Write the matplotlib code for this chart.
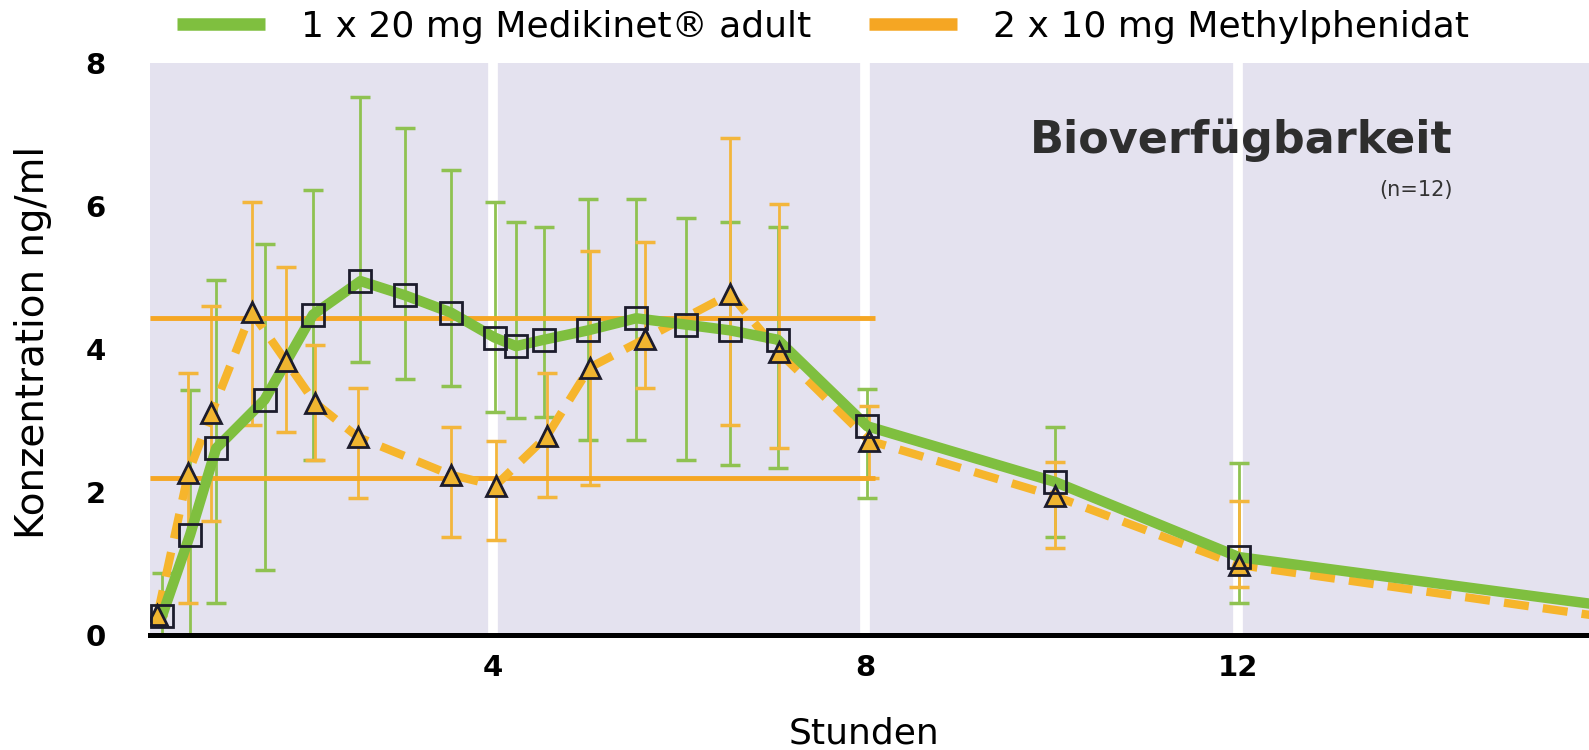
import numpy as np
import matplotlib.pyplot as plt
from matplotlib.lines import Line2D

# Medikinet adult 1 x 20 mg (green, squares)
med_t = [0.45, 0.75, 1.03, 1.55, 2.07, 2.58, 3.06, 3.55, 4.02, 4.25, 4.55, 5.02, 5.54, 6.08, 6.55, 7.06, 8.02, 10.04, 12.01, 16.0]
med_c = [0.27, 1.40, 2.61, 3.29, 4.48, 4.95, 4.75, 4.51, 4.16, 4.04, 4.13, 4.26, 4.43, 4.34, 4.26, 4.13, 2.92, 2.14, 1.09, 0.40]
med_lo = [0.00, 0.00, 0.45, 0.91, 2.45, 3.82, 3.58, 3.48, 3.12, 3.04, 3.05, 2.73, 2.73, 2.45, 2.38, 2.34, 1.92, 1.37, 0.45]
med_hi = [0.87, 3.43, 4.97, 5.47, 6.22, 7.53, 7.09, 6.50, 6.05, 5.77, 5.70, 6.10, 6.10, 5.83, 5.77, 5.71, 3.44, 2.91, 2.41]

# Methylphenidat 2 x 10 mg (orange, triangles)
mph_t = [0.40, 0.73, 0.98, 1.41, 1.78, 2.09, 2.55, 3.55, 4.03, 4.58, 5.04, 5.63, 6.55, 7.07, 8.04, 10.04, 12.01, 16.0]
mph_c = [0.28, 2.26, 3.10, 4.52, 3.83, 3.25, 2.77, 2.24, 2.09, 2.78, 3.74, 4.14, 4.77, 3.96, 2.72, 1.94, 0.98, 0.24]
mph_lo = [0.28, 0.45, 1.60, 2.94, 2.84, 2.45, 1.92, 1.37, 1.33, 1.93, 2.10, 3.46, 2.94, 2.61, 2.20, 1.22, 0.67]
mph_hi = [0.28, 3.66, 4.60, 6.05, 5.14, 4.05, 3.46, 2.91, 2.72, 3.66, 5.37, 5.49, 6.95, 6.03, 3.20, 2.42, 1.88]

# horizontal reference lines
ref_levels = [4.44, 2.20]
ref_end = 8.1

green = '#7fbf3f'
orange = '#f5a623'
dash_orange = '#f6b52c'
bar_green = '#8fc251'
bar_orange = '#f3b63c'
edge = '#1c1c2c'

fig = plt.figure(figsize=(15.89, 7.5), dpi=100)
ax = fig.add_axes([150 / 1589, 115 / 750, 1 - 150 / 1589, 572 / 750])
ax.set_facecolor('#e4e2ef')
ax.set_xlim(0.32, 15.77)
ax.set_ylim(0, 8)

for x in [4, 8, 12]:
    ax.axvline(x, color='white', lw=7, zorder=1)

# error bars
n = len(med_lo)
m_c = np.array(med_c[:n])
ax.errorbar(med_t[:n], m_c, yerr=[m_c - np.array(med_lo), np.array(med_hi) - m_c],
            fmt='none', ecolor=bar_green, elinewidth=2, capsize=7, capthick=2.5, zorder=2)
n = len(mph_lo)
o_c = np.array(mph_c[:n])
ax.errorbar(mph_t[:n], o_c, yerr=[o_c - np.array(mph_lo), np.array(mph_hi) - o_c],
            fmt='none', ecolor=bar_orange, elinewidth=2, capsize=7, capthick=2.5, zorder=2)

for lev in ref_levels:
    ax.hlines(lev, 0.32, ref_end, color=orange, lw=3.5, zorder=2.5)

# curves
ax.plot(mph_t, mph_c, color=dash_orange, lw=6, dashes=(3.0, 1.7), zorder=3)
ax.plot(med_t, med_c, color=green, lw=7.5, solid_joinstyle='round', zorder=4)

# markers (last point lies outside the visible range)
ax.plot(mph_t[:-1], mph_c[:-1], ls='none', marker='^', ms=15, mfc='#f0b530', mec=edge, mew=2, zorder=5)
ax.plot(med_t[:-1], med_c[:-1], ls='none', marker='s', ms=16, mfc='none', mec=edge, mew=2, zorder=6)

# axes styling
for s in ['top', 'right', 'left']:
    ax.spines[s].set_visible(False)
ax.spines['bottom'].set_linewidth(3.6)
ax.spines['bottom'].set_color('black')
ax.spines['bottom'].set_zorder(7)
ax.set_xticks([4, 8, 12])
ax.set_yticks([0, 2, 4, 6, 8])
ax.tick_params(axis='both', length=0, labelsize=21)
ax.tick_params(axis='y', pad=32)
ax.tick_params(axis='x', pad=14)
for lab in ax.get_xticklabels() + ax.get_yticklabels():
    lab.set_fontweight('bold')

fig.text(864 / 1589, 1 - 733 / 750, 'Stunden', ha='center', va='center', fontsize=26)
fig.text(33 / 1589, 1 - 342 / 750, 'Konzentration ng/ml', rotation=90, ha='center', va='center', fontsize=28)

ax.text(0.905, 0.865, 'Bioverfügbarkeit', transform=ax.transAxes, ha='right', va='center',
        fontsize=32, fontweight='bold', color='#2e2e2e')
ax.text(0.905, 0.778, '(n=12)', transform=ax.transAxes, ha='right', va='center',
        fontsize=15, color='#333333')

handles = [Line2D([], [], color=green, lw=9, solid_capstyle='butt'),
           Line2D([], [], color=orange, lw=9, solid_capstyle='butt')]
labels = ['1 x 20 mg Medikinet® adult', '2 x 10 mg Methylphenidat']
fig.legend(handles, labels, loc='center left', bbox_to_anchor=(177 / 1589, 1 - 27 / 750),
           ncol=2, frameon=False, fontsize=26, handlelength=2.44, handletextpad=1.0,
           columnspacing=1.6, borderpad=0, borderaxespad=0)

plt.savefig('out.png', dpi=100)
